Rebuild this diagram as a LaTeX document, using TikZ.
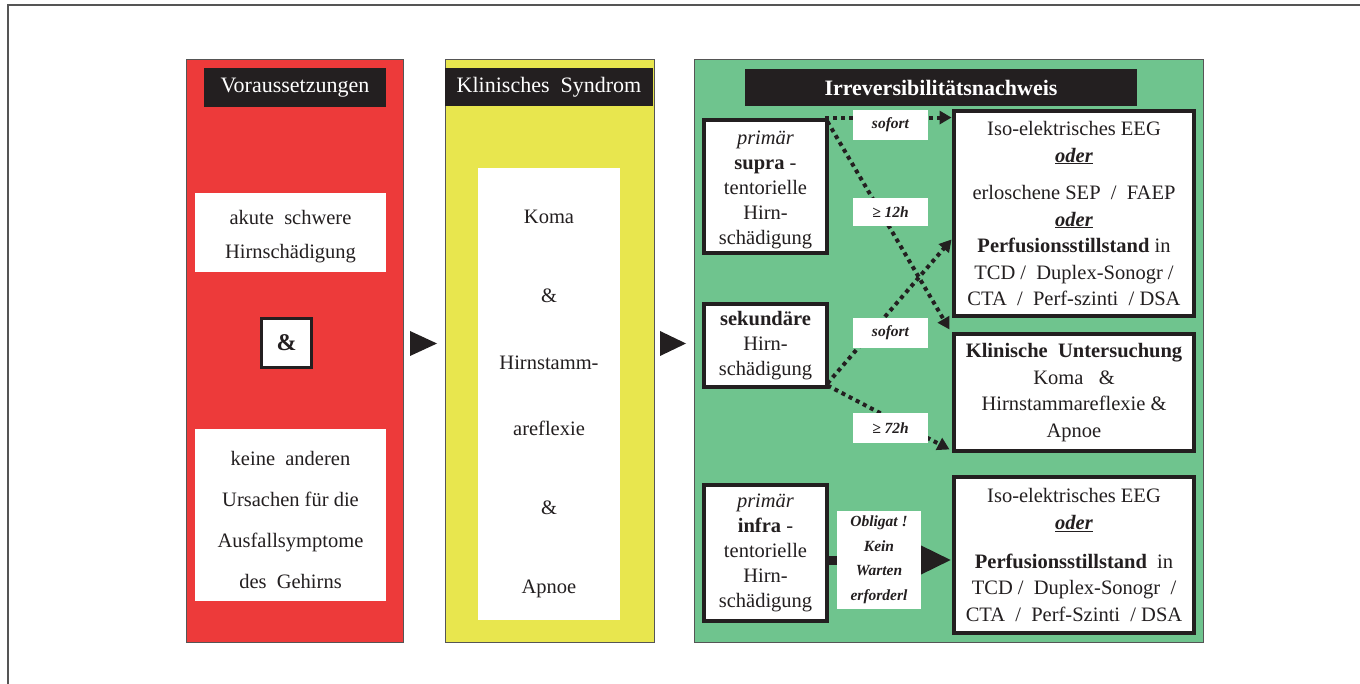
\documentclass[tikz,border=0pt]{standalone}
\usepackage{fontspec}
\setmainfont{Liberation Serif}
\usetikzlibrary{arrows.meta,calc}
\definecolor{cred}{RGB}{237,58,58}
\definecolor{cyellow}{RGB}{232,230,78}
\definecolor{cgreen}{RGB}{111,196,142}
\definecolor{cblack}{RGB}{35,31,32}
\definecolor{frgray}{RGB}{85,85,85}
\definecolor{txt}{RGB}{35,31,32}
\begin{document}
\begin{tikzpicture}[x=1pt,y=-1pt,
  panel/.style={draw=frgray, line width=1pt, inner sep=0pt},
  header/.style={fill=cblack, text=white, inner sep=0pt, font=\fontsize{22}{26}\selectfont},
  whitebox/.style={fill=white, inner sep=0pt},
  bodytext/.style={align=center, text=txt, inner sep=0pt, font=\fontsize{20.5}{26}\selectfont},
  thickbox/.style={draw=cblack, line width=4.5pt, fill=white, inner sep=0pt, align=center, text=txt, font=\fontsize{20.5}{25}\selectfont},
  lbl/.style={fill=white, inner sep=0pt, align=center, text=txt, font=\fontsize{15.5}{24.5}\selectfont\bfseries\itshape},
  dotarrow/.style={draw=cblack, line width=4pt, dash pattern=on 4pt off 4pt, -{Triangle[length=12pt,width=13pt]}},
  solidarrow/.style={draw=cblack, line width=9pt, -{Triangle[length=31pt,width=27pt]}}
]
\useasboundingbox (0,0) rectangle (1360,684);
\fill[white] (0,0) rectangle (1360,684);
% outer frame
\draw[frgray, line width=1.5pt] (8,684) -- (8,5) -- (1360,5);

% panels
\node[panel, fill=cred, minimum width=217, minimum height=582] (red) at (294.5,351) {};
\node[panel, fill=cyellow, minimum width=209, minimum height=582] (yellow) at (549.5,351) {};
\node[panel, fill=cgreen, minimum width=509, minimum height=582] (green) at (948.5,351) {};

% headers
\node[header, minimum width=182, minimum height=39] (hvor) at (295,87.5) {Voraussetzungen};
\node[header, minimum width=208, minimum height=38] (hks) at (549,87) {Klinisches\ \ Syndrom};
\node[header, minimum width=392, minimum height=37] (hirr) at (941,87.5) {\bfseries Irreversibilitätsnachweis};

% red panel content
\node[whitebox, minimum width=191, minimum height=79] (akut) at (290.5,232.5) {};
\node[bodytext, font=\fontsize{20.5}{34}\selectfont] (akuttxt) at (290.5,237) {akute\ \ schwere\\Hirnschädigung};
\node[draw=cblack, line width=3pt, fill=white, minimum width=50, minimum height=49, inner sep=0pt, text=txt, font=\fontsize{24}{28}\selectfont\bfseries] (und) at (286.5,343) {\&};
\node[whitebox, minimum width=191, minimum height=172] (keine) at (290.5,515) {};
\node[bodytext, font=\fontsize{20.5}{40.7}\selectfont] (keinetxt) at (290.5,520) {keine\ \ anderen\\Ursachen für die\\Ausfallsymptome\\des\ \ Gehirns};

% arrows between panels
\fill[cblack] (410,331) -- (437,343.5) -- (410,356) -- cycle;
\fill[cblack] (660,331) -- (686,343.5) -- (660,356) -- cycle;

% yellow panel content
\node[whitebox, minimum width=142, minimum height=452] (sym) at (549,394) {};
\node[bodytext] (symtxt) at (549,404) {Koma\\[53pt]\&\\[41pt]Hirnstamm-\\[40pt]areflexie\\[53pt]\&\\[53pt]Apnoe};

% green panel box positions
\coordinate (csupra) at (765.5,186.5);
\coordinate (csek) at (765.5,345.5);
\coordinate (cinfra) at (765.5,553);
\coordinate (ceeg1) at (1074,213.5);
\coordinate (cklin) at (1074,392.5);
\coordinate (ceeg2) at (1074,555);

% anchor nodes with the outer size of the boxes
\node[minimum width=127.5, minimum height=137.5, inner sep=0pt] (supra) at (csupra) {};
\node[minimum width=127.5, minimum height=87.5, inner sep=0pt] (sek) at (csek) {};
\node[minimum width=127.5, minimum height=140.5, inner sep=0pt] (infra) at (cinfra) {};
\node[minimum width=244.5, minimum height=209.5, inner sep=0pt] (eeg1) at (ceeg1) {};
\node[minimum width=244.5, minimum height=121.5, inner sep=0pt] (klin) at (cklin) {};
\node[minimum width=244.5, minimum height=160.5, inner sep=0pt] (eeg2) at (ceeg2) {};

% dotted arrows
\draw[dotarrow] ([xshift=-4pt,yshift=0pt]supra.north east) -- ([yshift=0pt]supra.north east -| eeg1.west);
\draw[dotarrow] ([xshift=-2pt,yshift=-4pt]supra.north east) -- ([xshift=-2pt,yshift=2pt]klin.north west);
\draw[dotarrow] ([xshift=-2pt,yshift=6pt]sek.south east) -- ([yshift=-26pt]eeg1.west);
\draw[dotarrow] ([xshift=-2pt,yshift=4pt]sek.south east) -- ([xshift=-2pt,yshift=4pt]klin.south west);

% solid arrow
\draw[solidarrow] ([yshift=-7pt]infra.east) -- ([yshift=-5pt]eeg2.west);

% labels
\node[lbl, minimum width=75, minimum height=30] (l1) at (890.5,125) {sofort};
\node[lbl, minimum width=75, minimum height=28] (l2) at (890.5,212) {≥ 12h};
\node[lbl, minimum width=75, minimum height=30] (l3) at (890.5,333) {sofort};
\node[lbl, minimum width=75, minimum height=30] (l4) at (890.5,428) {≥ 72h};
\node[lbl, minimum width=84, minimum height=98] (l5) at (879,560) {Obligat !\\Kein\\Warten\\erforderl};

% thick boxes
\node[thickbox, minimum width=123, minimum height=133] (supraB) at (csupra) {\rule{0pt}{21pt}\textit{primär}\\\textbf{supra} -\\tentorielle\\Hirn-\\schädigung};
\node[thickbox, minimum width=123, minimum height=83] (sekB) at (csek) {\textbf{sekundäre}\\Hirn-\\schädigung};
\node[thickbox, minimum width=123, minimum height=136] (infraB) at (cinfra) {\textit{primär}\\\textbf{infra} -\\tentorielle\\Hirn-\\schädigung};
\node[thickbox, minimum width=240, minimum height=205, font=\fontsize{20.5}{26.5}\selectfont] (eeg1B) at (ceeg1) {Iso-elektrisches EEG\\\underline{\textbf{\textit{oder}}}\\[11pt]erloschene SEP\ \ /\ \ FAEP\\\underline{\textbf{\textit{oder}}}\\\textbf{Perfusionsstillstand} in\\TCD /\ \ Duplex-Sonogr /\\CTA\ \ /\ \ Perf-szinti\ \ / DSA};
\node[thickbox, minimum width=240, minimum height=117, font=\fontsize{20.5}{26.7}\selectfont] (klinB) at (cklin) {\textbf{Klinische\ \ Untersuchung}\\Koma\ \ \ \&\\Hirnstammareflexie \&\\Apnoe};
\node[thickbox, minimum width=240, minimum height=156, font=\fontsize{20.5}{26.3}\selectfont] (eeg2B) at (ceeg2) {Iso-elektrisches EEG\\\underline{\textbf{\textit{oder}}}\\[13pt]\textbf{Perfusionsstillstand}\ \ in\\TCD /\ \ Duplex-Sonogr\ \ /\\CTA\ \ /\ \ Perf-Szinti\ \ / DSA};
\end{tikzpicture}
\end{document}
